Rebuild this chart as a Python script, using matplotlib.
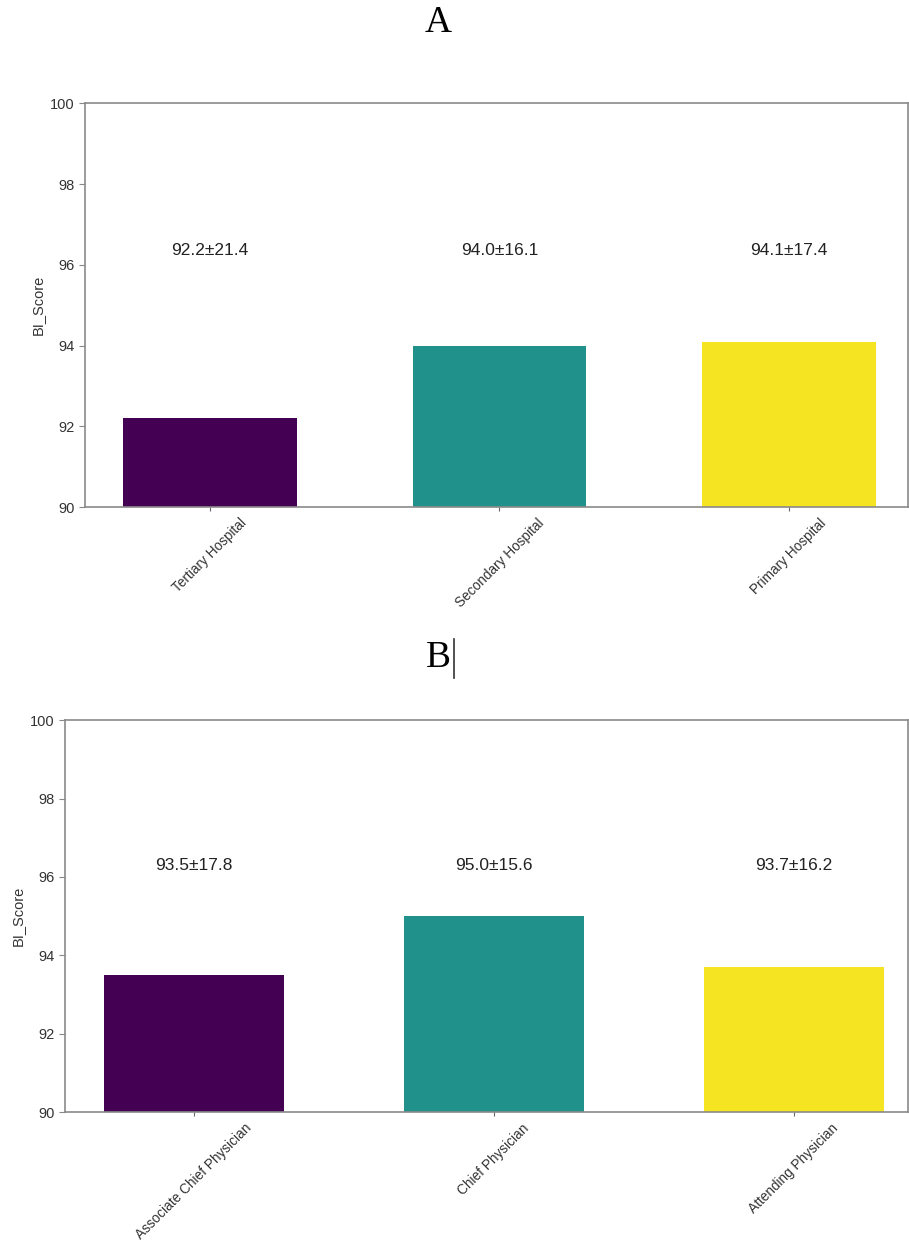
import matplotlib.pyplot as plt
from matplotlib.lines import Line2D

# panel A
hospital_levels = ["Tertiary Hospital", "Secondary Hospital", "Primary Hospital"]
hospital_mean = [92.2, 94.0, 94.1]
hospital_sd = [21.4, 16.1, 17.4]

# panel B
physician_titles = ["Associate Chief Physician", "Chief Physician", "Attending Physician"]
physician_mean = [93.5, 95.0, 93.7]
physician_sd = [17.8, 15.6, 16.2]

bar_colors = ["#440154", "#21918c", "#f5e422"]

plt.rcParams['font.family'] = ['Liberation Sans', 'DejaVu Sans']

fig = plt.figure(figsize=(9.09, 12.46), dpi=100)


def panel(rect, cats, means, sds, xlim, label_y):
    ax = fig.add_axes(rect)
    x = range(len(cats))
    ax.bar(x, means, width=0.6, color=bar_colors, bottom=0)
    for i in x:
        ax.text(i, label_y, f"{means[i]:.1f}\u00b1{sds[i]:.1f}",
                ha="center", va="center", fontsize=12.5, color="#222222")
    ax.set_ylim(90, 100)
    ax.set_xlim(*xlim)
    ax.set_yticks([90, 92, 94, 96, 98, 100])
    ax.set_xticks(list(x))
    ax.set_xticklabels(cats, rotation=45, ha="center", fontsize=9.8, color="#333333")
    ax.tick_params(axis="y", labelsize=10.5, labelcolor="#333333", color="#888888", length=4)
    ax.tick_params(axis="x", color="#666666", length=3)
    ax.set_ylabel("BI_Score", fontsize=10.5, color="#333333")
    for s in ax.spines.values():
        s.set_color("#8a8a8a")
        s.set_linewidth(1.2)
    return ax


axA = panel([0.0935, 0.593, 0.905, 0.324], hospital_levels, hospital_mean, hospital_sd,
            (-0.432, 2.41), 96.35)
axB = panel([0.0715, 0.1075, 0.927, 0.3145], physician_titles, physician_mean, physician_sd,
            (-0.43, 2.38), 96.3)

fig.text(0.482, 0.982, "A", ha="center", va="center", fontsize=27, family="Liberation Serif")
fig.text(0.482, 0.472, "B", ha="center", va="center", fontsize=27, family="Liberation Serif")
# the stray text cursor next to B
fig.add_artist(Line2D([0.4995, 0.4995], [0.456, 0.487], transform=fig.transFigure,
                      color="#333333", linewidth=1.2))

fig.savefig("out.png", dpi=100)
